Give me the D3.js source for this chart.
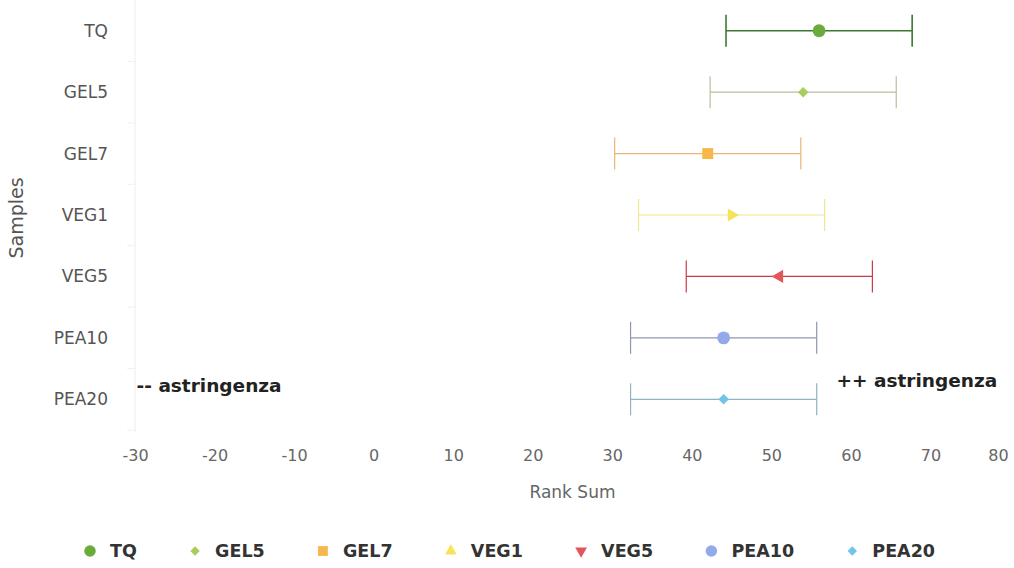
<!DOCTYPE html>
<html>
<head>
<meta charset="utf-8">
<script src="https://cdn.jsdelivr.net/npm/d3@7/dist/d3.min.js"></script>
<style>
  html, body { margin: 0; padding: 0; background: #fff; }
  svg { display: block; font-family: "DejaVu Sans", Verdana, sans-serif; }
</style>
</head>
<body>
<svg id="chart" width="1014" height="568"></svg>
<script>
// ---- data ----
const samples = ["TQ", "GEL5", "GEL7", "VEG1", "VEG5", "PEA10", "PEA20"];
const rankSums = [56, 54, 42, 45, 51, 44, 44];
const lows = [44.3, 42.3, 30.3, 33.3, 39.3, 32.3, 32.3];
const highs = [67.7, 65.7, 53.7, 56.7, 62.7, 55.7, 55.7];
const xTicks = [-30, -20, -10, 0, 10, 20, 30, 40, 50, 60, 70, 80];
const markerSymbols = ["circle", "diamond", "square", "triangle", "triangle-down", "circle", "diamond"];
const markerColors = ["#6aab3c", "#a9cc5e", "#f8b74b", "#f6e35a", "#e2565b", "#92aaea", "#72c3ea"];
const whiskerColors = ["#3f7636", "#b9c09a", "#e9b676", "#f1e78e", "#c83a48", "#8e97ae", "#8fb4c2"];
const annotations = [
  { text: "-- astringenza", x: -29.8, pos: 5.77 },
  { text: "++ astringenza", x: 58.2, pos: 5.70 }
];

// ---- layout ----
const svg = d3.select("#chart");
const plot = { left: 135, right: 1010, top: 0, bottom: 430 };

const x = d3.scaleLinear().domain([-30, 80]).range([plot.left, plot.right]);
const y = d3.scaleBand().domain(samples).range([plot.top, plot.bottom]);
const yPos = p => plot.top + (p + 0.5) * y.step();

// y axis line + ticks (very faint)
svg.append("line")
  .attr("x1", plot.left).attr("x2", plot.left)
  .attr("y1", plot.top).attr("y2", plot.bottom + 2)
  .attr("stroke", "#eeeeee").attr("stroke-width", 1);
const bounds = samples.map(s => y(s)).concat([plot.bottom]).slice(1);
svg.selectAll("line.ytick").data(bounds).enter().append("line")
  .attr("class", "ytick")
  .attr("x1", plot.left - 8).attr("x2", plot.left)
  .attr("y1", d => d).attr("y2", d => d)
  .attr("stroke", "#f0f0f0");

// y labels
svg.selectAll("text.ylab").data(samples).enter().append("text")
  .attr("class", "ylab")
  .attr("x", 108)
  .attr("y", d => y(d) + y.bandwidth() / 2)
  .attr("dy", "0.35em")
  .attr("text-anchor", "end")
  .attr("font-size", 17)
  .attr("fill", "#555")
  .text(d => d);

// y title
svg.append("text")
  .attr("transform", `translate(23,${(plot.top + plot.bottom) / 2 + 3}) rotate(-90)`)
  .attr("text-anchor", "middle")
  .attr("font-size", 19)
  .attr("fill", "#555")
  .text("Samples");

// x axis labels
const xAxis = d3.axisBottom(x).tickValues(xTicks).tickSize(0).tickPadding(0)
  .tickFormat(d => String(d));
const gx = svg.append("g").attr("transform", `translate(0,${plot.bottom})`).call(xAxis);
gx.select(".domain").remove();
gx.selectAll("text")
  .attr("y", 20)
  .attr("font-size", 16)
  .attr("font-family", "\"DejaVu Sans\", sans-serif")
  .attr("fill", "#666")
  .attr("dx", d => d === 80 ? -12 : 0);

svg.append("text")
  .attr("x", (plot.left + plot.right) / 2)
  .attr("y", 498)
  .attr("text-anchor", "middle")
  .attr("font-size", 17)
  .attr("fill", "#666")
  .text("Rank Sum");

// error bars
const whisk = 16;
const eb = svg.append("g");
samples.forEach((s, i) => {
  const cy = y(s) + y.bandwidth() / 2;
  const sw = i === 0 ? 1.6 : 1.2;
  const g = eb.append("g");
  g.append("line")
    .attr("x1", x(lows[i])).attr("x2", x(highs[i]))
    .attr("y1", cy).attr("y2", cy)
    .attr("stroke", whiskerColors[i]).attr("stroke-width", sw);
  [lows[i], highs[i]].forEach(v => {
    g.append("line")
      .attr("x1", x(v)).attr("x2", x(v))
      .attr("y1", cy - whisk).attr("y2", cy + whisk)
      .attr("stroke", whiskerColors[i]).attr("stroke-width", sw);
  });
});

// markers
const symMap = {
  "circle": d3.symbolCircle, "diamond": d3.symbolSquare, "square": d3.symbolSquare,
  "triangle": d3.symbolTriangle, "triangle-down": d3.symbolTriangle
};
const symSize = { "circle": 130, "diamond": 55, "square": 120, "triangle": 75, "triangle-down": 75 };
const plotRot = { "triangle": 90, "triangle-down": -90, "diamond": 45 };
samples.forEach((s, i) => {
  const t = markerSymbols[i];
  const cy = y(s) + y.bandwidth() / 2;
  const rot = plotRot[t] || 0;
  svg.append("path")
    .attr("d", d3.symbol().type(symMap[t]).size(symSize[t])())
    .attr("transform", `translate(${x(rankSums[i])},${cy}) rotate(${rot})`)
    .attr("fill", markerColors[i]);
});

// annotations
svg.selectAll("text.annot").data(annotations).enter().append("text")
  .attr("class", "annot")
  .attr("x", d => x(d.x))
  .attr("y", d => yPos(d.pos))
  .attr("dy", "0.35em")
  .attr("font-size", 18.5)
  .attr("font-weight", "bold")
  .attr("fill", "#222")
  .text(d => d.text);

// legend
const legend = svg.append("g").attr("transform", "translate(0,551)");
const legendLeft = 90, legendRight = 935;
const groups = [];
let textSum = 0;
samples.forEach((s, i) => {
  const g = legend.append("g");
  const t = markerSymbols[i];
  const rot = t === "triangle-down" ? 180 : (t === "diamond" ? 45 : 0);
  g.append("path")
    .attr("d", d3.symbol().type(symMap[t]).size(symSize[t] * 0.8)())
    .attr("transform", `rotate(${rot})`)
    .attr("fill", markerColors[i]);
  const txt = g.append("text")
    .attr("x", 20).attr("dy", "0.35em")
    .attr("font-size", 17.5).attr("font-weight", "bold")
    .attr("fill", "#333")
    .text(s);
  const w = 20 + txt.node().getComputedTextLength();
  textSum += w;
  groups.push({ g, w });
});
const gap = (legendRight - legendLeft - textSum) / (samples.length - 1);
let lx = legendLeft;
groups.forEach(({ g, w }) => {
  g.attr("transform", `translate(${lx},0)`);
  lx += w + gap;
});
</script>
</body>
</html>
